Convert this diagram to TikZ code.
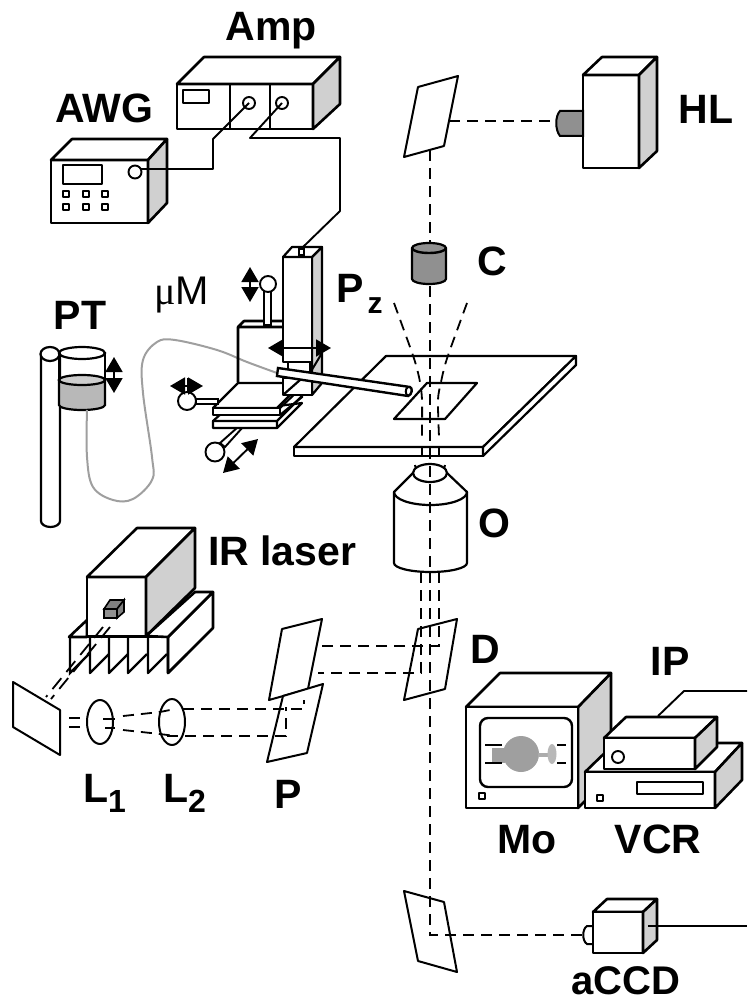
\documentclass[tikz,border=0pt]{standalone}
\usepackage{fontspec}
\setmainfont{Liberation Sans}
\newfontfamily\mufont{Liberation Serif}
\usetikzlibrary{arrows.meta}
\definecolor{sidegray}{HTML}{D0D0D0}
\definecolor{darkgray}{HTML}{909090}
\definecolor{midgray}{HTML}{B8B8B8}
\tikzset{
  etiq/.style={font=\fontsize{41}{41}\bfseries\selectfont,inner sep=0pt,anchor=base},
  caja/.style={draw,fill=white,line width=2.6pt,line join=round},
  lado/.style={draw,fill=sidegray,line width=2.6pt,line join=round},
  fino/.style={draw,line width=1.9pt,line join=round},
  espejo/.style={draw,fill=white,line width=2pt,line join=round},
  haz/.style={line width=1.8pt,dash pattern=on 11pt off 7pt},
  cable/.style={line width=1.9pt,line join=round},
  tubo/.style={draw=gray!75,line width=2pt},
  perilla/.style={circle,draw,fill=white,line width=1.9pt,inner sep=0pt,minimum size=#1},
  flecha/.style={line width=1.9pt,{Triangle[width=17pt,length=15pt]}-{Triangle[width=17pt,length=15pt]}}
}
\begin{document}
\begin{tikzpicture}[x=1pt,y=-1pt]
\useasboundingbox (0,0) rectangle (747,1003);

% Amp
\path[caja] (177,84) rectangle (313,129);
\path[caja] (177,84) -- (204,57) -- (340,57) -- (313,84) -- cycle;
\path[lado] (313,84) -- (340,57) -- (340,104) -- (313,129) -- cycle;
\draw[line width=2.6pt] (230,84) -- (230,129) (270,84) -- (270,129);
\draw[fino] (183,90) rectangle (209,103);
\node[perilla=12pt] (ampA) at (249,103) {};
\node[perilla=12pt] (ampB) at (282,103) {};

% AWG
\path[caja] (51,160) rectangle (148,223);
\path[caja] (51,160) -- (72,139) -- (167,139) -- (148,160) -- cycle;
\path[lado] (148,160) -- (167,139) -- (167,203) -- (148,223) -- cycle;
\draw[fino] (63,165) rectangle (102,184);
\foreach \x in {66,86,105}
  \foreach \y in {194,207}
    \draw[fino] (\x-3,\y-3) rectangle (\x+3,\y+3);
\node[perilla=13pt] (awgK) at (135,172) {};

% Cables
\coordinate (pzK) at (302,248);
\draw[cable] (awgK) -- (141,169) -- (213,169) -- (213,139) -- (ampA.center);
\draw[cable] (ampB.center) -- (250,138) -- (340,138) -- (340,211) -- (pzK);

% HL
\path[caja] (583,75) rectangle (639,168);
\path[caja] (583,75) -- (602,57) -- (657,57) -- (639,75) -- cycle;
\path[lado] (639,75) -- (657,57) -- (657,151) -- (639,168) -- cycle;
\path[draw,fill=darkgray,line width=2pt] (583,111) -- (560,111) .. controls (555,116) and (555,130) .. (560,136) -- (583,136) -- cycle;
\coordinate (hlK) at (556,121);

% Espejos
\path[espejo] (418,87) -- (458,76) -- (444,146) -- (404,157) -- cycle;
\path[espejo] (404,891) -- (444,902) -- (457,972) -- (418,961) -- cycle;
\coordinate (mTop) at (430,121);
\coordinate (mBot) at (430,935);
\draw[haz] (449,121) -- (hlK);

% C
\path[draw,fill=darkgray,line width=2.2pt] (412,248) -- (412,279) arc[start angle=180,end angle=360,x radius=17,y radius=-5] -- (446,248) arc[start angle=0,end angle=180,x radius=17,y radius=-5] -- cycle;
\draw[line width=2.4pt] (412,248) arc[start angle=180,end angle=360,x radius=17,y radius=-5];
\coordinate (cTop) at (430,243);
\coordinate (cBot) at (430,286);
\draw[haz] (430,150) -- (cTop);

% Mesa
\path[caja,line width=2.2pt] (294,447) rectangle (483,456);
\path[caja,line width=2.2pt] (294,447) -- (386,356) -- (576,356) -- (483,447) -- cycle;
\path[caja,line width=2.2pt] (483,447) -- (576,356) -- (576,365) -- (483,456) -- cycle;
\path[fino,line width=2.2pt] (427,383) -- (477,383) -- (445,419) -- (394,419) -- cycle;

% O
\path[caja,line width=2.2pt] (394,492) -- (413,473) -- (447,473) -- (467,492) -- (467,563)
  arc[start angle=0,end angle=-180,x radius=36.5,y radius=-9] -- cycle;
\draw[line width=2.2pt] (394,492) arc[start angle=180,end angle=360,x radius=36.5,y radius=-13];
\path[caja,line width=2.2pt] (430,473) ellipse[x radius=17,y radius=9];
\draw[line width=2pt] (415,465) -- (416,469) (445,465) -- (444,469);

% Haces verticales
\draw[haz] (cBot) -- (430,572);
\draw[haz] plot[smooth] coordinates {(394,303) (410,347) (416,365) (420,382) (422,400) (422,437)};
\draw[haz] plot[smooth] coordinates {(467,303) (451,347) (445,365) (441,382) (438,400) (439,437)};
\draw[line width=1.9pt] (422,447) -- (422,456) (430,447) -- (430,456) (439,447) -- (439,456);

% D y P
\path[espejo] (282,629) -- (322,619) -- (308,689) -- (269,700) -- cycle;
\path[espejo] (283,696) -- (323,684) -- (307,753) -- (267,762) -- cycle;
\path[espejo] (418,629) -- (457,619) -- (445,689) -- (404,700) -- cycle;
\coordinate (dA) at (439,646);
\coordinate (dB) at (421,673);
\coordinate (pA) at (304,709);
\coordinate (pB) at (286,736);
\draw[haz] (439,572) -- (dA) -- (318,646);
\draw[haz] (421,572) -- (dB) -- (318,673);
\draw[haz] (430,572) -- (mBot) -- (583,935);
\draw[haz] (183,709) -- (pA) -- (304,700);
\draw[haz] (167,736) -- (pB) -- (286,707);

% Lentes
\path[espejo] (100,722) ellipse[x radius=13,y radius=22] node[inner sep=0pt] (lenA) {};
\path[espejo,fill=none] (172,722) ellipse[x radius=13,y radius=23] node[inner sep=0pt] (lenB) {};
\draw[line width=1.8pt] (103,719) -- (115,719) (105,728) -- (115,728);
\draw[line width=1.8pt] (69,718) -- (80,718) (69,727) -- (80,727) (60,718) -- (61,718) (60,727) -- (61,727);
\draw[haz] (123,716) -- (160,712) -- (175,709);
\draw[haz] (123,730) -- (160,734) -- (175,736);

% IR laser
\path[lado,fill=white] (168,637) -- (213,592) -- (213,628) -- (168,673) -- cycle;
\path[caja] (146,636) -- (195,592) -- (213,592) -- (168,637) -- cycle;
\path[caja] (69,637) -- (87,620) -- (87,637) -- cycle;
\draw[line width=2.6pt] (69,637) -- (168,637);
\foreach \x/\xx in {70/90,90/109,109/128,128/148,148/168}
  \draw[line width=2.4pt,line join=round] (\xx,637) -- (\xx,673) -- ++(19,-19);
\draw[line width=2.4pt] (70,637) -- (70,673) -- (89,654);
\path[caja] (87,577) rectangle (146,636);
\path[caja] (87,577) -- (137,528) -- (195,528) -- (146,577) -- cycle;
\path[lado] (146,577) -- (195,528) -- (195,588) -- (146,636) -- cycle;
\path[draw,fill=darkgray,line width=1.6pt] (104,609) rectangle (117,618);
\path[draw,fill=gray,line width=1.6pt] (104,609) -- (110,600) -- (124,600) -- (117,609) -- cycle;
\path[draw,fill=gray,line width=1.6pt] (117,609) -- (124,600) -- (124,612) -- (117,618) -- cycle;
\coordinate (irA) at (103,627);
\coordinate (irB) at (110,627);
\coordinate (mLeft) at (60,722);

% Espejo izquierdo
\path[espejo] (13,682) -- (60,710) -- (60,755) -- (13,727) -- cycle;
\draw[line width=1.8pt,dash pattern=on 14pt off 8pt] (irA) -- (46,697);
\draw[line width=1.8pt,dash pattern=on 14pt off 8pt] (irB) -- (51,699);

% PT
\path[caja,line width=2.2pt] (41,354) -- (41,521) arc[start angle=180,end angle=360,x radius=9.5,y radius=-6] -- (60,354) -- cycle;
\path[caja,line width=2.2pt] (50,354) ellipse[x radius=9.5,y radius=7];
\path[draw,fill=midgray,line width=2.2pt] (59,380) -- (59,405) arc[start angle=180,end angle=360,x radius=23,y radius=-5] -- (105,380) -- cycle;
\path[draw,fill=midgray!70,line width=2.2pt] (82,380) ellipse[x radius=23,y radius=5];
\draw[line width=2.2pt] (59,353) -- (59,380) (105,353) -- (105,380);
\draw[line width=2.2pt] (82,353) ellipse[x radius=23,y radius=6];
\draw[flecha] (114,357) -- (114,393);
\draw[tubo] plot[smooth,tension=0.6] coordinates {(87,410) (87,457) (93,487) (113,500) (133,499) (152,480) (152,457) (143,393) (143,360) (157,342) (175,340) (217,350) (247,362) (277,373)};

% Micromanipulador
\path[caja,fill=none] (238,382) -- (238,327) -- (244,321) -- (283,321) (238,327) -- (283,327);
\path[draw,fill=white,line width=1.9pt] (264,290) rectangle (271,325);
\node[perilla=16pt] (knobZ) at (268,284) {};
\draw[flecha] (250,267) -- (250,302);
% platinas
\path[draw,fill=white,line width=1.9pt] (220,443) -- (238,427) -- (243,427) -- (225,447) -- cycle;
\node[perilla=19pt] (knobF) at (215,452) {};
\draw[flecha] (223,473) -- (258,439);
\path[caja,line width=2.2pt] (213,421) -- (222,413) -- (302,403) -- (277,428) -- (213,428) -- cycle;
\draw[line width=2.2pt] (213,421) -- (277,421) -- (302,396) (277,428) -- (277,421);
\path[caja,line width=2.2pt] (213,408) -- (238,383) -- (302,383) -- (277,408) -- cycle;
\path[caja,line width=2.2pt] (213,408) rectangle (280,415);
\draw[line width=2.2pt] (280,408) -- (302,387) -- (302,397) -- (280,415);
\path[draw,fill=white,line width=1.9pt] (196,399) rectangle (218,404);
\node[perilla=18pt] (knobL) at (187,401) {};
\draw[line width=1.9pt] (188,378) -- (188,393);
\draw[flecha] (170,386) -- (203,386);
% Pz
\path[lado,line width=2.2pt] (312,257) -- (322,247) -- (322,383) -- (312,395) -- cycle;
\path[caja,line width=2.2pt] (283,378) rectangle (312,395);
\draw[line width=2.2pt] (283,395) -- (300,380);
\path[caja,line width=2.2pt] (283,257) rectangle (312,362);
\path[caja,line width=2.2pt] (283,257) -- (292,247) -- (322,247) -- (312,257) -- cycle;
\draw[line width=2.2pt] (288,362) -- (288,372) -- (310,372) -- (310,362);
\draw[line width=2pt] (299,249) rectangle (304,255);
\draw[line width=2pt] (322,353) -- (310,373);
\draw[flecha] (268,348) -- (331,348);

% Capilar
\path[draw,fill=white,line width=2.4pt] (278,368) -- (410,387) .. controls (413,388) and (412,395) .. (408,396) -- (277,376) -- cycle;
\draw[line width=2pt] (408,387) .. controls (405,389) and (405,394) .. (408,396);

% Mo
\path[lado] (578,707) -- (611,673) -- (611,775) -- (578,808) -- cycle;
\path[caja] (466,707) -- (500,673) -- (611,673) -- (578,707) -- cycle;
\path[caja] (466,707) rectangle (578,808);
\draw[line width=2.4pt,rounded corners=8pt] (480,718) rectangle (572,787);
\fill[gray!75] (521,754) circle[radius=18];
\fill[gray!75] (492,748) rectangle (505,763);
\fill[gray!65] (538,753) rectangle (550,757);
\fill[midgray] (552,754) ellipse[x radius=4.5,y radius=10];
\draw[line width=1.9pt] (485,745) -- (502,745) (485,763) -- (502,763) (557,745) -- (566,745) (557,763) -- (566,763);
\draw[fino] (479,793) rectangle (485,799);

% VCR e IP
\path[caja] (585,772) -- (615,743) -- (742,743) -- (715,772) -- cycle;
\path[caja] (585,772) rectangle (715,808);
\path[lado] (715,772) -- (742,743) -- (742,780) -- (715,808) -- cycle;
\draw[fino] (637,782) rectangle (703,794);
\draw[fino] (597,795) rectangle (603,801);
\path[caja] (604,738) -- (626,717) -- (717,717) -- (695,738) -- cycle;
\path[caja] (604,738) rectangle (695,769);
\path[lado] (695,738) -- (717,717) -- (717,747) -- (695,769) -- cycle;
\node[perilla=12pt] (ipK) at (618,757) {};
\coordinate (ipC) at (658,716);
\coordinate (ipE) at (747,691);
\draw[cable] (ipC) -- (684,691) -- (ipE);

% aCCD
\path[caja] (593,912) -- (607,899) -- (657,899) -- (643,912) -- cycle;
\path[caja] (593,912) rectangle (643,953);
\path[lado] (643,912) -- (657,899) -- (657,940) -- (643,953) -- cycle;
\draw[line width=2pt] (593,926) -- (587,926) .. controls (582,929) and (582,941) .. (587,944) -- (593,944);
\coordinate (ccdK) at (648,926);
\coordinate (ccdE) at (747,926);
\draw[cable] (ccdK) -- (ccdE);

% Etiquetas
\node[etiq] (ampL) at (271,41) {Amp};
\node[etiq] (awgL) at (104,123) {AWG};
\node[etiq] (hlL) at (706,124) {HL};
\node[etiq] (cL) at (492,275) {C};
\node[etiq,anchor=base west] (pzL) at (336,302) {P\hspace{4pt}\raisebox{-11pt}{\fontsize{30}{30}\selectfont z}};
\node[etiq] (ptL) at (80,329) {PT};
\node[etiq,anchor=base west,font=\fontsize{40}{40}\selectfont] (mL) at (154,304) {{\mufont μ}M};
\node[etiq] (oL) at (494,537) {O};
\node[etiq,anchor=base west] (irL) at (208,565) {IR laser};
\node[etiq] (dL) at (485,663) {D};
\node[etiq] (ipL) at (670,675) {IP};
\node[etiq] (moL) at (527,853) {Mo};
\node[etiq] (vcrL) at (658,853) {VCR};
\node[etiq,anchor=base west] (laL) at (83,802) {L\raisebox{-10pt}{\fontsize{32}{32}\selectfont 1}};
\node[etiq,anchor=base west] (lbL) at (163,802) {L\raisebox{-10pt}{\fontsize{32}{32}\selectfont 2}};
\node[etiq] (pL) at (288,808) {P};
\node[etiq,font=\fontsize{40}{40}\bfseries\selectfont] (ccdL) at (626,994) {aCCD};

\end{tikzpicture}
\end{document}
